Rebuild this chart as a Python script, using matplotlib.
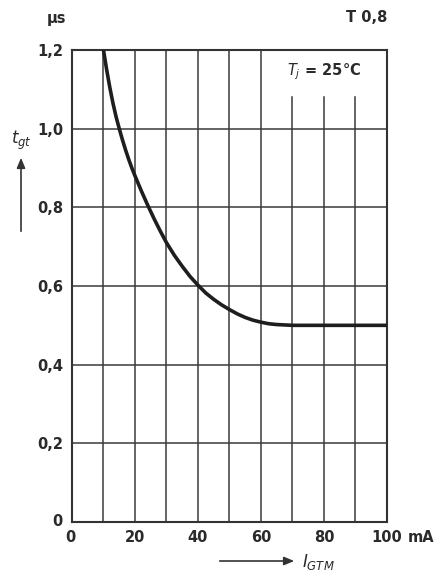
import matplotlib
matplotlib.use("Agg")
import matplotlib.pyplot as plt

# Data
i_gtm = [10, 11, 12, 13, 14, 15, 16, 17, 18, 19, 20, 22, 24, 26, 28, 30, 32.5, 35, 37.5, 40,
         42.5, 45, 47.5, 50, 52.5, 55, 57.5, 60, 62.5, 65, 67.5, 70, 80, 90, 100]
t_gt = [1.200, 1.150, 1.105, 1.065, 1.030, 1.000, 0.972, 0.946, 0.922, 0.900, 0.880, 0.842,
        0.806, 0.772, 0.740, 0.710, 0.678, 0.650, 0.624, 0.602, 0.582, 0.566, 0.552, 0.540,
        0.529, 0.520, 0.513, 0.508, 0.504, 0.502, 0.501, 0.500, 0.500, 0.500, 0.500]

x_ticks = [0, 20, 40, 60, 80, 100]
x_tick_labels = ["0", "20", "40", "60", "80", "100"]
y_ticks = [0.2, 0.4, 0.6, 0.8, 1.0, 1.2]
y_tick_labels = ["0,2", "0,4", "0,6", "0,8", "1,0", "1,2"]
x_grid = [10, 20, 30, 40, 50, 60]
x_grid_short = [70, 80, 90]

W, H = 439, 578
fig = plt.figure(figsize=(W / 100, H / 100), dpi=100)
fig.patch.set_facecolor("white")
L, R, T, B = 72, 387, 50, 522
ax = fig.add_axes([L / W, 1 - B / H, (R - L) / W, (B - T) / H])
ax.set_xlim(0, 100)
ax.set_ylim(0, 1.2)

txt = "#2a2a2a"
grid_c = "#3a3a3a"
for x in x_grid:
    ax.plot([x, x], [0, 1.2], color=grid_c, lw=1.1, zorder=1)
for x in x_grid_short:
    ax.plot([x, x], [0, 1.08], color=grid_c, lw=1.1, zorder=1)
for y in y_ticks[:-1]:
    ax.plot([0, 100], [y, y], color=grid_c, lw=1.1, zorder=1)

ax.plot(i_gtm, t_gt, color="#1e1e1e", lw=2.6, zorder=3, solid_capstyle="butt",
        solid_joinstyle="round")

for s in ax.spines.values():
    s.set_linewidth(1.5)
    s.set_color("#333333")

ax.set_xticks(x_ticks[1:])
ax.set_xticklabels(x_tick_labels[1:])
ax.set_yticks(y_ticks)
ax.set_yticklabels(y_tick_labels)
ax.tick_params(length=0, labelsize=10.5, colors=txt, pad=6)
for lab in ax.get_xticklabels() + ax.get_yticklabels():
    lab.set_fontweight("bold")

fp = dict(fontsize=10.5, color=txt, fontweight="bold")
# zero labels
fig.text(63 / W, 1 - 522 / H, "0", ha="right", va="center", **fp)
fig.text(70 / W, 1 - 538 / H, "0", ha="center", va="center", **fp)
fig.text(408 / W, 1 - 538 / H, "mA", ha="left", va="center", **fp)

fig.text(47 / W, 1 - 18 / H, "µs", ha="left", va="center", **fp)
fig.text(387 / W, 1 - 18 / H, "T 0,8", ha="right", va="center", **fp)

ax.text(80, 1.145, r"$T_j$ = 25°C", ha="center", va="center", fontsize=10.5,
        color=txt, fontweight="bold")

# y-axis label with arrow
fig.text(21 / W, 1 - 140 / H, r"$t_{gt}$", ha="center", va="center", fontsize=12, color=txt)
fig.add_artist(matplotlib.patches.FancyArrowPatch(
    (21 / W, 1 - 234 / H), (21 / W, 1 - 155 / H), transform=fig.transFigure,
    arrowstyle="-|>,head_length=6,head_width=2.5", color="#333333", lw=1.2, mutation_scale=1))

# x-axis label with arrow
fig.add_artist(matplotlib.patches.FancyArrowPatch(
    (217 / W, 1 - 561 / H), (297 / W, 1 - 561 / H), transform=fig.transFigure,
    arrowstyle="-|>,head_length=6,head_width=2.5", color="#333333", lw=1.2, mutation_scale=1))
fig.text(302 / W, 1 - 562 / H, r"$I_{GTM}$", ha="left", va="center", fontsize=12, color=txt)

fig.savefig("out.png", dpi=100)
